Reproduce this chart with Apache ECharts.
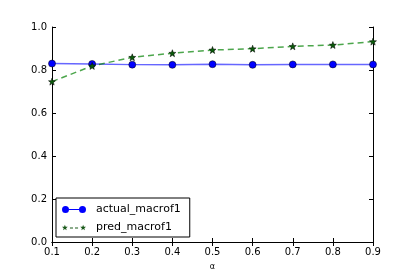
<!DOCTYPE html>
<html><head><meta charset="utf-8">
<script src="https://cdn.jsdelivr.net/npm/echarts@6/dist/echarts.min.js"></script>
<style>html,body{margin:0;padding:0;background:#fff}#c{width:415px;height:277px}</style>
</head><body><div id="c"></div>
<script>
const alphas = [0.1, 0.2, 0.3, 0.4, 0.5, 0.6, 0.7, 0.8, 0.9];
const actualMacroF1 = [0.830, 0.828, 0.825, 0.824, 0.827, 0.824, 0.826, 0.826, 0.826];
const predMacroF1 = [0.746, 0.819, 0.859, 0.878, 0.893, 0.899, 0.910, 0.916, 0.932];
const xTicks = [0.1, 0.2, 0.3, 0.4, 0.5, 0.6, 0.7, 0.8, 0.9];
const yTicks = [0.0, 0.2, 0.4, 0.6, 0.8, 1.0];

const chart = echarts.init(document.getElementById('c'));
const font = 'DejaVu Sans';
function star(cx, cy, r) {
  let p = '';
  for (let i = 0; i < 10; i++) {
    const rr = i % 2 === 0 ? r : r * 0.42;
    const a = -Math.PI / 2 + i * Math.PI / 5;
    p += (i === 0 ? 'M' : 'L') + (cx + rr * Math.cos(a)).toFixed(2) + ',' + (cy + rr * Math.sin(a)).toFixed(2);
  }
  return p + 'Z';
}
const circleIcon = 'path://M0,3.5 A3.5,3.5 0 1 1 7,3.5 A3.5,3.5 0 1 1 0,3.5 Z M7,3 L17,3 L17,4 L7,4 Z M17,3.5 A3.5,3.5 0 1 1 24,3.5 A3.5,3.5 0 1 1 17,3.5 Z';
const starIcon = 'path://' + star(3, 3.2, 3) + ' M8,3 L11,3 L11,4 L8,4 Z M13,3 L16,3 L16,4 L13,4 Z ' + star(21, 3.2, 3);

const axisCommon = {
  axisLine: { show: true, lineStyle: { color: '#000', width: 1 } },
  axisTick: { show: true, inside: true, length: 4, lineStyle: { color: '#000' } },
  splitLine: { show: false }
};

chart.setOption({
  animation: false,
  backgroundColor: '#fff',
  grid: { left: 52, right: 42, top: 27, bottom: 35, containLabel: false },
  xAxis: [
    Object.assign({
      type: 'value', min: 0.1, max: 0.9, interval: 0.1, position: 'bottom',
      name: 'α', nameLocation: 'middle', nameGap: 21,
      nameTextStyle: { fontFamily: font, fontSize: 8, color: '#000' },
      axisLabel: { fontFamily: font, fontSize: 10, color: '#000', margin: 5,
        formatter: v => v.toFixed(1) }
    }, axisCommon),
    Object.assign({
      type: 'value', min: 0.1, max: 0.9, interval: 0.1, position: 'top',
      axisLabel: { show: false }
    }, axisCommon)
  ],
  yAxis: [
    Object.assign({
      type: 'value', min: 0, max: 1, interval: 0.2, position: 'left',
      axisLabel: { fontFamily: font, fontSize: 10, color: '#000', margin: 5,
        formatter: v => v.toFixed(1) }
    }, axisCommon),
    Object.assign({
      type: 'value', min: 0, max: 1, interval: 0.2, position: 'right',
      axisLabel: { show: false }
    }, axisCommon)
  ],
  legend: {
    left: 56, top: 198, orient: 'vertical', itemGap: 7,
    padding: [6, 9, 4, 6],
    borderColor: '#000', borderWidth: 1, borderRadius: 0,
    itemWidth: 24, itemHeight: 7,
    textStyle: { fontFamily: font, fontSize: 11, color: '#000', padding: [0, 0, 0, 5] },
    data: [
      { name: 'actual_macrof1', icon: circleIcon, itemStyle: { color: '#0000ff', borderColor: '#0000ff', borderWidth: 0 } },
      { name: 'pred_macrof1', icon: starIcon, itemStyle: { color: '#1a5a1a', borderColor: '#1a5a1a', borderWidth: 0 } }
    ]
  },
  series: [
    {
      name: 'actual_macrof1', type: 'line',
      data: alphas.map((a, i) => [a, actualMacroF1[i]]),
      symbol: 'circle', symbolSize: 7,
      lineStyle: { color: 'rgba(0,0,255,0.6)', width: 1.5 },
      itemStyle: { color: '#0000ff', borderColor: '#000', borderWidth: 0.5 },
      clip: false, z: 3
    },
    {
      name: 'pred_macrof1', type: 'line',
      data: alphas.map((a, i) => [a, predMacroF1[i]]),
      symbol: 'path://' + star(5, 5, 5), symbolSize: 7,
      lineStyle: { color: 'rgba(0,128,0,0.7)', width: 1.5, type: [6, 4] },
      itemStyle: { color: '#0a5a0a', borderColor: '#000', borderWidth: 0.5 },
      clip: false, z: 4
    }
  ]
});
</script></body></html>
